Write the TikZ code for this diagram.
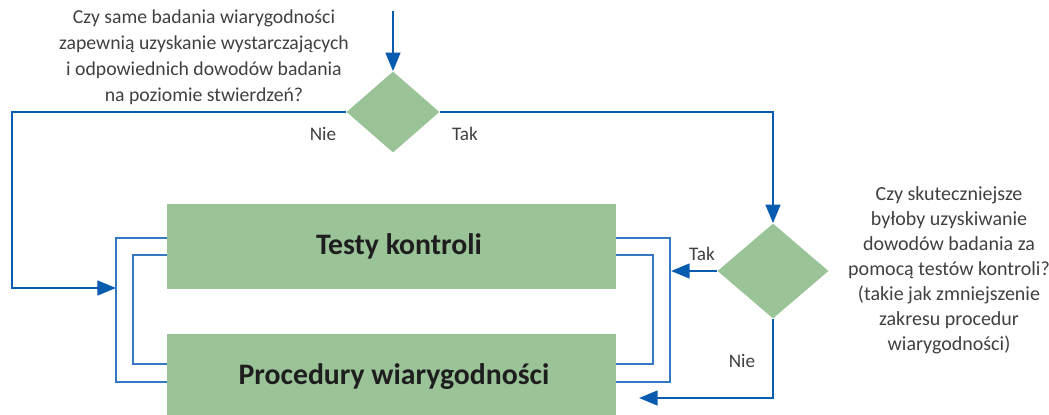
\documentclass[tikz,border=0pt]{standalone}
\usepackage{fontspec}
\setmainfont{Carlito}
\usetikzlibrary{shapes.geometric,arrows.meta,calc}
\definecolor{boxgreen}{RGB}{155,195,152}
\definecolor{flowblue}{RGB}{8,92,176}
\definecolor{brblue}{RGB}{52,120,196}
\definecolor{txtgray}{RGB}{64,64,64}
\definecolor{boxtxt}{RGB}{30,30,30}
\tikzset{
  flow/.style={draw=flowblue, line width=2pt, -{Triangle[length=14pt,width=11pt]}},
  bracketline/.style={draw=brblue, line width=1.1pt},
  decision/.style={shape=diamond, fill=boxgreen, draw=none, inner sep=0pt},
  actbox/.style={rectangle, fill=boxgreen, draw=none, inner sep=0pt, minimum width=336.75pt},
  boxlabel/.style={font=\fontsize{22.3}{27}\selectfont\bfseries, text=boxtxt, text height=14.4pt, text depth=0pt, inner sep=0pt},
  lbl/.style={font=\fontsize{14.4}{19.5}\selectfont, text=txtgray, inner sep=0pt},
  question/.style={lbl, align=center}
}
\begin{document}
\begin{tikzpicture}[x=0.75pt,y=-0.75pt]
\useasboundingbox (0,0) rectangle (1049,414);
% boxes
\node[actbox, minimum height=63.75pt] (testy) at (391.5,246.5) {};
\node[actbox, minimum height=72pt] (proc) at (391.5,382) {};
\node[boxlabel] (testyt) at (399,245) {Testy kontroli};
\node[boxlabel] (proct) at (394,375) {Procedury wiarygodności};
% decisions
\node[decision, minimum width=69.75pt, minimum height=60.75pt] (d1) at (393,112) {};
\node[decision, minimum width=83.25pt, minimum height=71.25pt] (d2) at (773,271) {};
% questions
\node[question, font=\fontsize{14.8}{19.5}\selectfont] (q1) at (204,57) {Czy same badania wiarygodności\\zapewnią uzyskanie wystarczających\\i odpowiednich dowodów badania\\na poziomie stwierdzeń?};
\node[question, font=\fontsize{15}{18.75}\selectfont] (q2) at (949,270) {Czy skuteczniejsze\\byłoby uzyskiwanie\\dowodów badania za\\pomocą testów kontroli?\\(takie jak zmniejszenie\\zakresu procedur\\wiarygodności)};
% brackets
\draw[bracketline] (testy.west|-0,238) -- (116,238) -- (116,382) -- (proc.west|-0,382);
\draw[bracketline] (testy.west|-0,255) -- (133,255) -- (133,364) -- (proc.west|-0,364);
\draw[bracketline] (testy.east|-0,238) -- (670,238) -- (670,382) -- (proc.east|-0,382);
\draw[bracketline] (testy.east|-0,255) -- (653,255) -- (653,364) -- (proc.east|-0,364);
% coordinates
\coordinate (start) at (393,11);
\coordinate (lin) at (116,288);
\coordinate (rin) at (671,271);
\coordinate (rin2) at (639,398);
% flows
\draw[flow] (start) -- (d1.north);
\draw[flow] (d1.west) -| (12,288) -- (lin);
\draw[flow] (d1.east) -| (d2.north);
\draw[flow] (d2.west) -- (rin);
\draw[flow] (d2.south) |- (rin2);
% labels
\node[lbl] (nie1) at (323,134) {Nie};
\node[lbl] (tak1) at (465,134) {Tak};
\node[lbl] (tak2) at (702,254) {Tak};
\node[lbl] (nie2) at (742,361) {Nie};
\end{tikzpicture}
\end{document}
